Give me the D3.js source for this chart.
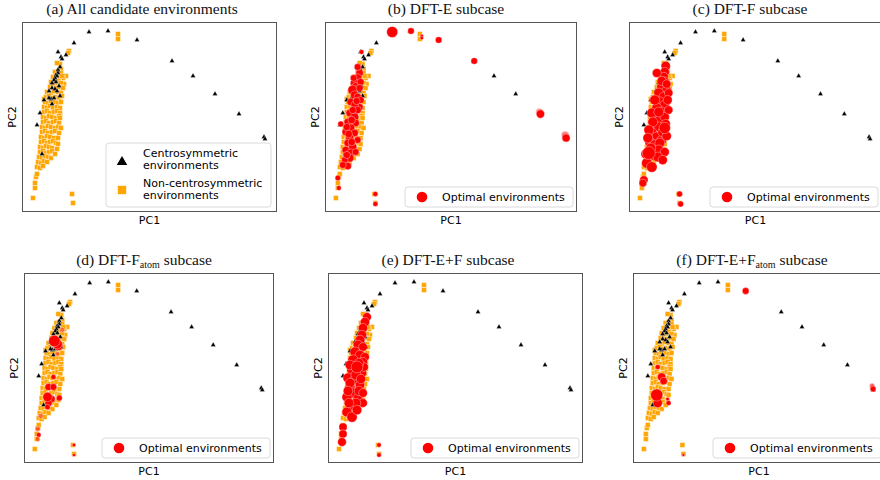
<!DOCTYPE html>
<html>
<head>
<meta charset="utf-8">
<script src="https://cdn.jsdelivr.net/npm/d3@7"></script>
<style>
  body { margin: 0; background: #fff; }
</style>
</head>
<body>
<div id="chart"></div>
<script>
// PC coordinates (arbitrary units, no ticks shown)
const centroPoints = [
  [67, 180], [86, 181], [115, 172], [150, 151], [171, 136], [193, 118], [217, 98], [242, 75], [243, 73],
  [52, 169], [44, 157], [36, 160], [39, 155], [40, 153],
  [38, 145], [36, 142], [36, 139], [34, 137], [35, 136], [33, 134], [32, 132], [34, 130], [30, 129],
  [37, 126], [30, 124], [33, 123], [27, 121], [35, 121], [38, 116], [29, 113], [22, 112], [27, 114],
  [32, 114], [30, 108], [18, 99], [15, 87], [20, 58]
];

const nonCentroPoints = [
  [96, 178], [96, 173], [47, 161], [46, 159], [44, 136], [22, 113], [50, 18], [51, 9], [11, 14],
  [13, 24], [13, 29], [14, 35], [15, 38], [17, 49], [21, 53], [38, 148], [41, 134], [39, 143], [35, 149], [42, 128],
  [33, 140], [36, 141], [39, 139], [31, 135], [34, 136], [37, 134], [40, 136],
  [29, 130], [33, 129], [36, 131], [39, 129], [28, 125], [31, 126], [34, 124], [38, 125], [41, 124],
  [25, 120], [29, 119], [32, 121], [36, 120], [39, 119], [24, 115], [27, 116], [31, 114], [34, 115], [37, 114], [40, 116],
  [23, 110], [26, 109], [29, 111], [33, 110], [36, 109], [39, 110], [22, 105], [25, 104], [28, 106], [31, 104], [35, 105], [38, 104],
  [22, 100], [25, 101], [28, 99], [32, 100], [35, 101], [38, 99], [21, 95], [24, 94], [27, 96], [30, 95], [34, 94], [37, 96],
  [21, 90], [24, 91], [27, 89], [31, 90], [34, 91], [37, 89], [20, 85], [23, 84], [26, 86], [29, 85], [33, 84], [36, 85],
  [20, 80], [23, 81], [26, 79], [30, 80], [33, 81], [37, 79], [19, 75], [22, 74], [25, 76], [28, 75], [32, 74], [36, 74],
  [19, 70], [22, 71], [25, 69], [28, 70], [31, 71], [34, 69], [18, 65], [21, 64], [24, 66], [27, 65], [30, 64], [35, 63],
  [18, 60], [21, 61], [24, 59], [27, 60], [30, 61], [17, 55], [20, 54], [23, 56], [26, 55], [29, 54],
  [16, 50], [19, 49], [22, 51], [25, 50], [15, 45], [18, 44], [21, 46], [38, 94], [39, 84], [36, 68], [33, 58]
];

// optimal environments: [pc1, pc2, weight, opacity]
const optimalE = [
  [68, 180, 48], [87, 181, 17], [98, 176, 5], [98, 174, 5], [115, 172, 17], [151, 151, 17],
  [217, 100, 22, 0.4], [218, 98, 27], [243, 77, 22, 0.5], [244, 74, 25], [16, 88, 14], [51, 18, 10], [51, 8, 10],
  [13, 34, 12], [14, 24, 9], [37, 160, 9],
  [35, 139, 22], [33, 134, 26], [30, 129, 30], [31, 125, 30], [28, 122, 36], [30, 117, 26], [33, 115, 22],
  [26, 110, 22], [35, 105, 20], [36, 130, 20], [35, 124, 20], [36, 112, 20], [30, 107, 22], [33, 102, 22],
  [25, 99, 22], [30, 95, 26], [23, 90, 22], [31, 89, 22], [26, 84, 26], [21, 80, 22], [30, 79, 22],
  [25, 74, 26], [33, 72, 18], [23, 69, 22], [28, 65, 26], [21, 62, 22], [26, 59, 26], [31, 60, 18],
  [25, 54, 26], [20, 52, 18], [23, 46, 22], [18, 47, 18], [27, 92, 22], [22, 85, 20], [24, 78, 22],
  [27, 70, 22], [22, 57, 20], [28, 102, 20], [32, 111, 20], [29, 134, 18], [33, 145, 18]
];

const optimalF = [
  [37, 146, 34], [36, 140, 34], [35, 135, 34], [36, 130, 38], [33, 125, 40], [38, 122, 32], [30, 119, 38],
  [35, 115, 38], [40, 119, 28], [31, 110, 40], [36, 107, 38], [28, 104, 40], [33, 100, 40], [26, 95, 40],
  [31, 92, 40], [25, 87, 40], [30, 85, 40], [23, 79, 44], [28, 75, 40], [33, 72, 38], [21, 70, 40],
  [26, 67, 44], [31, 69, 38], [25, 57, 46], [30, 62, 40], [36, 60, 32], [18, 49, 44], [23, 45, 44],
  [15, 32, 28], [14, 29, 24], [51, 18, 14], [52, 8, 14], [23, 99, 38], [36, 95, 34], [40, 102, 28],
  [26, 112, 38], [28, 139, 32], [33, 131, 34], [30, 100, 38], [24, 90, 38], [34, 80, 38], [22, 64, 38],
  [29, 55, 38], [38, 128, 28], [39, 112, 32], [20, 82, 38], [19, 74, 38], [37, 88, 34], [38, 76, 34],
  [17, 58, 38], [34, 52, 34], [36, 84, 50], [20, 59, 65]
];

const optimalFatom = [
  [39, 133, 10, 0.45], [34, 109, 8, 0.45], [30, 86, 10], [25, 76, 20], [30, 76, 18], [28, 64, 22],
  [36, 65, 14], [25, 60, 20], [24, 56, 12], [24, 66, 34], [17, 47, 10, 0.45], [14, 34, 11, 0.45],
  [15, 28, 9], [14, 24, 10, 0.45], [51, 18, 5], [51, 8, 4], [35, 117, 32], [34, 119, 38], [31, 122, 52]
];

const optimalEF = [
  [39, 146, 30], [37, 141, 34], [35, 135, 34], [34, 128, 34], [32, 123, 36], [30, 118, 36], [35, 116, 30],
  [27, 111, 40], [32, 108, 36], [25, 103, 42], [24, 93, 42], [34, 90, 34], [20, 85, 40], [27, 83, 42],
  [22, 76, 40], [32, 78, 34], [25, 70, 42], [19, 66, 40], [30, 65, 36], [24, 58, 42], [35, 60, 30],
  [19, 51, 40], [24, 46, 42], [15, 36, 26], [15, 29, 26], [14, 21, 30], [51, 18, 8], [51, 8, 8],
  [37, 106, 30], [35, 101, 34], [28, 88, 40], [22, 80, 36], [28, 60, 36], [21, 60, 36], [31, 72, 36],
  [29, 53, 36], [36, 96, 30], [31, 100, 36], [22, 98, 36], [33, 84, 34], [20, 72, 36], [35, 70, 30],
  [29, 96, 55]
];

const optimalEFatom = [
  [25, 96, 10], [29, 86, 26], [31, 82, 22], [25, 60, 34], [35, 64, 5], [36, 60, 10], [24, 68, 58],
  [51, 8, 3], [114, 172, 18], [242, 77, 11, 0.6], [243, 74, 13]
];

const panelTitles = [
  ['(a) All candidate environments'],
  ['(b) DFT-E subcase'],
  ['(c) DFT-F subcase'],
  ['(d) DFT-F', 'atom', ' subcase'],
  ['(e) DFT-E+F subcase'],
  ['(f) DFT-E+F', 'atom', ' subcase']
];
const optimalSets = [null, optimalE, optimalF, optimalFatom, optimalEF, optimalEFatom];

const pc1Domain = [0, 255];
const pc2Domain = [0, 190];

// frame boxes and title centres
const frames = [
  { left: 22, top: 22, w: 255, h: 190, tx: 142, ty: 14 },
  { left: 325, top: 22, w: 252, h: 190, tx: 446, ty: 14 },
  { left: 629, top: 22, w: 253, h: 190, tx: 750, ty: 14 },
  { left: 24, top: 273, w: 250, h: 190, tx: 144, ty: 265 },
  { left: 328, top: 273, w: 255, h: 190, tx: 448, ty: 265 },
  { left: 633, top: 273, w: 252, h: 190, tx: 752, ty: 265 }
];

const ORANGE = '#ffa500';
const RED = '#ff0000';
const sansFont = 'DejaVu Sans, sans-serif';
const serifFont = 'Liberation Serif, Times New Roman, serif';

const svg = d3.select('#chart')
  .append('svg')
  .attr('width', 880)
  .attr('height', 480)
  .attr('viewBox', '0 0 880 480');

const radius = d3.scaleSqrt().domain([0, 100]).range([0, 8]);
const squareSym = d3.symbol().type(d3.symbolSquare).size(24);
const triSym = d3.symbol().type(d3.symbolTriangle).size(11);

function drawPanel(i) {
  const f = frames[i];
  const x = d3.scaleLinear().domain(pc1Domain).range([f.left, f.left + f.w]);
  const y = d3.scaleLinear().domain(pc2Domain).range([f.top + f.h, f.top]);
  const g = svg.append('g');

  g.append('clipPath').attr('id', `clip${i}`)
    .append('rect').attr('x', f.left).attr('y', f.top).attr('width', f.w).attr('height', f.h);
  const plot = g.append('g').attr('clip-path', `url(#clip${i})`);

  plot.append('g')
    .selectAll('path')
    .data(nonCentroPoints)
    .join('path')
    .attr('d', squareSym)
    .attr('transform', (d) => `translate(${x(d[0])},${y(d[1])})`)
    .attr('fill', ORANGE)
    .attr('stroke', '#fff')
    .attr('stroke-width', 0.4);

  plot.append('g')
    .selectAll('path')
    .data(centroPoints)
    .join('path')
    .attr('d', triSym)
    .attr('transform', (d) => `translate(${x(d[0])},${y(d[1])})`)
    .attr('fill', '#000')
    .attr('stroke', '#fff')
    .attr('stroke-width', 0.3);

  const optimal = optimalSets[i];
  if (optimal) {
    plot.append('g')
      .selectAll('circle')
      .data(optimal)
      .join('circle')
      .attr('cx', (d) => x(d[0]))
      .attr('cy', (d) => y(d[1]))
      .attr('r', (d) => radius(d[2]))
      .attr('fill', RED)
      .attr('fill-opacity', (d) => (d[3] == null ? 1 : d[3]))
      .attr('stroke', '#fff')
      .attr('stroke-opacity', 0.7)
      .attr('stroke-width', 0.5);
  }

  g.append('rect')
    .attr('x', f.left + 0.5).attr('y', f.top + 0.5)
    .attr('width', f.w - 1).attr('height', f.h - 1)
    .attr('fill', 'none')
    .attr('stroke', '#555')
    .attr('stroke-width', 1);

  // title
  const parts = panelTitles[i];
  const title = g.append('text')
    .attr('x', f.tx).attr('y', f.ty)
    .attr('text-anchor', 'middle')
    .attr('font-family', serifFont)
    .attr('font-size', 15.5)
    .attr('fill', '#111');
  title.append('tspan').text(parts[0]);
  if (parts.length > 1) {
    title.append('tspan').attr('font-size', 10).attr('dy', 3).text(parts[1]);
    title.append('tspan').attr('dy', -3).text(parts[2]);
  }

  // axis labels
  g.append('text')
    .attr('x', f.left + f.w / 2).attr('y', f.top + f.h + 12)
    .attr('text-anchor', 'middle')
    .attr('font-family', sansFont).attr('font-size', 11)
    .text('PC1');
  g.append('text')
    .attr('transform', `translate(${f.left - 6},${f.top + f.h / 2}) rotate(-90)`)
    .attr('text-anchor', 'middle')
    .attr('font-family', sansFont).attr('font-size', 11)
    .text('PC2');

  // legend
  if (!optimal) {
    const bw = 165, bh = 64;
    const bx = f.left + f.w - 6 - bw, by = f.top + f.h - 5 - bh;
    const lg = g.append('g').attr('font-family', sansFont).attr('font-size', 11);
    lg.append('rect').attr('x', bx).attr('y', by).attr('width', bw).attr('height', bh)
      .attr('rx', 3).attr('fill', '#fff').attr('fill-opacity', 0.85)
      .attr('stroke', '#d0d0d0').attr('stroke-width', 0.8);
    lg.append('path').attr('d', d3.symbol().type(d3.symbolTriangle).size(48))
      .attr('transform', `translate(${bx + 16},${by + 19})`).attr('fill', '#000');
    lg.append('text').attr('x', bx + 37).attr('y', by + 14).text('Centrosymmetric');
    lg.append('text').attr('x', bx + 37).attr('y', by + 25.5).text('environments');
    lg.append('path').attr('d', d3.symbol().type(d3.symbolSquare).size(70))
      .attr('transform', `translate(${bx + 16},${by + 47})`).attr('fill', ORANGE);
    lg.append('text').attr('x', bx + 37).attr('y', by + 44).text('Non-centrosymmetric');
    lg.append('text').attr('x', bx + 37).attr('y', by + 55.5).text('environments');
  } else {
    const bw = 168, bh = 20;
    const bx = f.left + f.w - 4 - bw, by = f.top + f.h - 5 - bh;
    const lg = g.append('g').attr('font-family', sansFont).attr('font-size', 11);
    lg.append('rect').attr('x', bx).attr('y', by).attr('width', bw).attr('height', bh)
      .attr('rx', 3).attr('fill', '#fff').attr('fill-opacity', 0.85)
      .attr('stroke', '#d0d0d0').attr('stroke-width', 0.8);
    lg.append('circle').attr('cx', bx + 17).attr('cy', by + 10).attr('r', 5.3).attr('fill', RED);
    lg.append('text').attr('x', bx + 37).attr('y', by + 14).text('Optimal environments');
  }
}

frames.forEach((_, i) => drawPanel(i));
</script>
</body>
</html>
